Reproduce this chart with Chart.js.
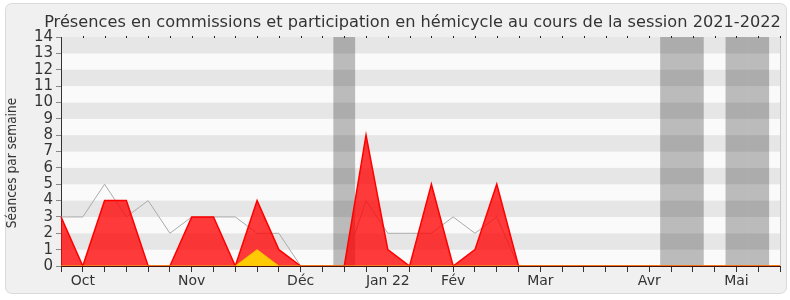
<!DOCTYPE html>
<html><head><meta charset="utf-8">
<script src="https://cdn.jsdelivr.net/npm/chart.js@4/dist/chart.umd.min.js"></script>
<style>html,body{margin:0;padding:0;background:#fff;}#wrap{width:790px;height:300px;}</style>
</head><body><div id="wrap"><canvas id="c" width="790" height="300"></canvas></div>
<script>
const TITLE = "Présences en commissions et participation en hémicycle au cours de la session 2021-2022";
const Y_TITLE = "Séances par semaine";
const weekLabels = ["", "Oct", "", "", "", "", "Nov", "", "", "", "", "Déc", "", "", "", "Jan 22", "", "", "Fév", "", "", "", "Mar", "", "", "", "", "Avr", "", "", "", "Mai", "", ""];
const commissions = [3, 0, 4, 4, 0, 0, 3, 3, 0, 4, 1, 0, 0, 0, 8, 1, 0, 5, 0, 1, 5, 0, 0, 0, 0, 0, 0, 0, 0, 0, 0, 0, 0, 0];
const hemicycle = [0, 0, 0, 0, 0, 0, 0, 0, 0, 1, 0, 0, 0, 0, 0, 0, 0, 0, 0, 0, 0, 0, 0, 0, 0, 0, 0, 0, 0, 0, 0, 0, 0, 0];
const mediane = [3, 3, 5, 3, 4, 2, 3, 3, 3, 2, 2, 0, 0, 0, 4, 2, 2, 2, 3, 2, 3, 0, 0, 0, 0, 0, 0, 0, 0, 0, 0, 0, 0, 0];
const vacationWeeks = [13, 28, 29, 31, 32];
const yTicks = [0, 1, 2, 3, 4, 5, 6, 7, 8, 9, 10, 11, 12, 13, 14];

const FONT = '"DejaVu Sans", Verdana, sans-serif';
const FONT_COND = '"DejaVu Sans Condensed", "DejaVu Sans", sans-serif';

function roundRect(ctx, x, y, w, h, r) {
  ctx.beginPath();
  ctx.moveTo(x + r, y);
  ctx.lineTo(x + w - r, y); ctx.quadraticCurveTo(x + w, y, x + w, y + r);
  ctx.lineTo(x + w, y + h - r); ctx.quadraticCurveTo(x + w, y + h, x + w - r, y + h);
  ctx.lineTo(x + r, y + h); ctx.quadraticCurveTo(x, y + h, x, y + h - r);
  ctx.lineTo(x, y + r); ctx.quadraticCurveTo(x, y, x + r, y);
  ctx.closePath();
}

const bgPlugin = {
  id: 'bg',
  beforeDraw(chart) {
    const { ctx, chartArea: a, scales: { x, y } } = chart;
    ctx.save();
    ctx.fillStyle = '#ffffff';
    ctx.fillRect(0, 0, chart.width, chart.height);
    roundRect(ctx, 5.5, 3.5, 781, 290, 7);
    ctx.fillStyle = '#f0f0f0';
    ctx.fill();
    ctx.strokeStyle = '#dadada';
    ctx.lineWidth = 1;
    ctx.stroke();
    for (let v = 0; v < yTicks[yTicks.length - 1]; v++) {
      const top = y.getPixelForValue(v + 1), bot = y.getPixelForValue(v);
      ctx.fillStyle = (v % 2) ? '#e6e6e6' : '#fafafa';
      ctx.fillRect(a.left, top, a.right - a.left, bot - top);
    }
    const step = x.getPixelForValue(1) - x.getPixelForValue(0);
    ctx.fillStyle = 'rgba(0,0,0,0.25)';
    vacationWeeks.forEach(i => {
      const cx = x.getPixelForValue(i);
      ctx.fillRect(cx - step / 2, a.top, step, a.bottom - a.top);
    });
    ctx.strokeStyle = '#c8c8c8';
    ctx.beginPath();
    ctx.moveTo(a.right + 0.5, a.top);
    ctx.lineTo(a.right + 0.5, a.bottom);
    ctx.stroke();
    ctx.restore();
  },
  afterDraw(chart) {
    const { ctx, chartArea: a, scales: { x } } = chart;
    ctx.save();
    ctx.font = '16.2px ' + FONT;
    ctx.fillStyle = '#333333';
    ctx.textAlign = 'center';
    ctx.textBaseline = 'alphabetic';
    ctx.fillText(TITLE, 412.5, 27);
    ctx.font = '13.5px ' + FONT_COND;
    ctx.translate(16, 163);
    ctx.rotate(-Math.PI / 2);
    ctx.fillText(Y_TITLE, 0, 0);
    ctx.restore();
    ctx.save();
    ctx.fillStyle = '#222';
    for (let i = 1; i < weekLabels.length; i++) {
      const px = Math.round(x.getPixelForValue(i));
      ctx.fillRect(px, a.top - 1, 1, 2);
    }
    ctx.restore();
  }
};

new Chart(document.getElementById('c'), {
  type: 'line',
  data: {
    labels: weekLabels,
    datasets: [
      { label: 'hémicycle', data: hemicycle, fill: 'origin', backgroundColor: 'rgba(255,210,0,0.95)', borderColor: '#f2c200', borderWidth: 1, pointRadius: 0, tension: 0 },
      { label: 'commissions', data: commissions, fill: 'origin', backgroundColor: 'rgba(255,0,0,0.77)', borderColor: '#ff0000', borderWidth: 1.5, pointRadius: 0, tension: 0 },
      { label: 'médiane', data: mediane, fill: false, borderColor: '#aaaaaa', borderWidth: 1, pointRadius: 0, tension: 0 }
    ]
  },
  options: {
    responsive: false,
    animation: false,
    devicePixelRatio: 1,
    layout: { padding: { top: 37, right: 10, left: 0, bottom: 0 } },
    plugins: { legend: { display: false }, tooltip: { enabled: false }, title: { display: false } },
    scales: {
      x: {
        type: 'category',
        z: 1,
        afterFit: s => { s.height = 34; },
        ticks: { autoSkip: false, maxRotation: 0, minRotation: 0, color: '#333', padding: 1, font: { family: FONT, size: 14 } },
        grid: { drawOnChartArea: false, drawTicks: true, tickLength: 6, color: '#333' },
        border: { display: true, color: '#4a1010', width: 1 }
      },
      y: {
        min: 0, max: 14,
        afterFit: s => { s.width = 61; },
        afterBuildTicks: s => { s.ticks = yTicks.map(v => ({ value: v })); },
        ticks: { autoSkip: false, color: '#333', padding: 3, font: { family: FONT, size: 15 } },
        grid: { drawOnChartArea: false, drawTicks: true, tickLength: 5, color: '#888' },
        border: { display: true, color: '#333', width: 1 }
      }
    }
  },
  plugins: [bgPlugin]
});
</script>
</body></html>
